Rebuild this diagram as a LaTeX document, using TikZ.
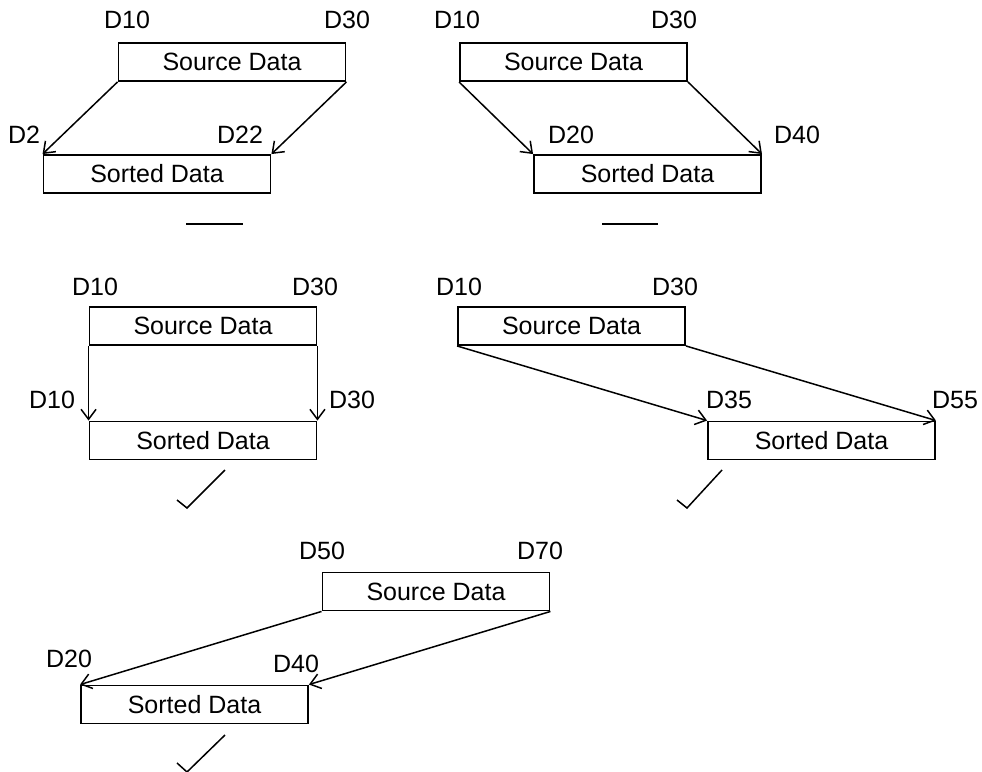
\documentclass[tikz,border=0pt]{standalone}
\usepackage{fontspec}
\setmainfont{Liberation Sans}
\usetikzlibrary{positioning,arrows.meta}

\begin{document}
\begin{tikzpicture}[x=1pt,y=-1pt,line width=1.5pt,
  every node/.style={font=\fontsize{25}{30}\selectfont,inner sep=0pt},
  databox/.style={draw,line width=1.9pt,minimum width=227pt,minimum height=38pt},
  movearrow/.style={-{Straight Barb[length=10pt,width=15pt]}}]
  \useasboundingbox (0,0) rectangle (982,771);
  % upper left
  \node[databox](src1) at (232,62){Source Data};
  \node[databox](srt1) at (157,174){Sorted Data};
  \node(s1a) at (127,20){D10}; \node(s1b) at (347,20){D30};
  \node(t1a) at (24,135){D2}; \node(t1b) at (240,135){D22};
  \draw[movearrow](src1.south west)--(srt1.north west);
  \draw[movearrow](src1.south east)--(srt1.north east);
  \draw(186,224)--(243,224);
  % upper right
  \node[databox](src2) at (573.5,62){Source Data};
  \node[databox](srt2) at (647.5,174){Sorted Data};
  \node(s2a) at (457,20){D10}; \node(s2b) at (674,20){D30};
  \node(t2a) at (571,135){D20}; \node(t2b) at (797,135){D40};
  \draw[movearrow](src2.south west)--(srt2.north west);
  \draw[movearrow](src2.south east)--(srt2.north east);
  \draw(602,224)--(658,224);
  % middle left
  \node[databox](src3) at (203,326){Source Data};
  \node[databox](srt3) at (203,440.5){Sorted Data};
  \node(s3a) at (95,287){D10}; \node(s3b) at (315,287){D30};
  \node(t3a) at (52,400){D10}; \node(t3b) at (352,400){D30};
  \draw[movearrow](src3.south west)--(srt3.north west);
  \draw[movearrow](src3.south east)--(srt3.north east);
  \draw(177,500)--(187,508)--(225,470);
  % middle right
  \node[databox](src4) at (571.5,326){Source Data};
  \node[databox](srt4) at (821.5,440.5){Sorted Data};
  \node(s4a) at (459,287){D10}; \node(s4b) at (675,287){D30};
  \node(t4a) at (729,400){D35}; \node(t4b) at (955,400){D55};
  \draw[movearrow](src4.south west)--(srt4.north west);
  \draw[movearrow](src4.south east)--(srt4.north east);
  \draw(677,500)--(687,508)--(722,470);
  % bottom
  \node[databox](src5) at (436,591.5){Source Data};
  \node[databox](srt5) at (194.5,704.5){Sorted Data};
  \node(s5a) at (322,551){D50}; \node(s5b) at (540,551){D70};
  \node(t5a) at (69,659){D20}; \node(t5b) at (296,664){D40};
  \draw[movearrow](src5.south west)--(srt5.north west);
  \draw[movearrow](src5.south east)--(srt5.north east);
  \draw(177,763)--(187,772)--(225,735);
\end{tikzpicture}
\end{document}
